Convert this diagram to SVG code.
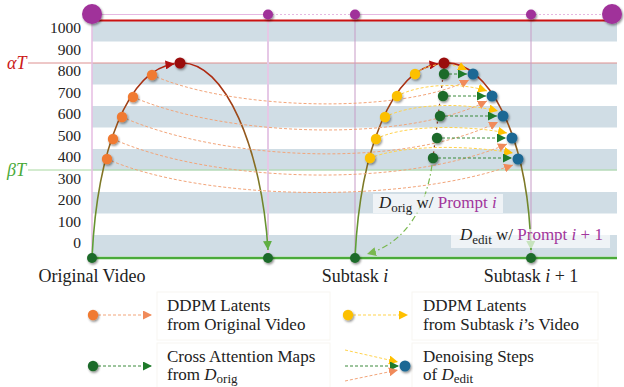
<svg xmlns="http://www.w3.org/2000/svg" width="624" height="387" viewBox="0 0 624 387">
<defs>
<style>
text{font-family:"Liberation Serif","Times New Roman",serif;fill:#222}
.ax{font-size:15.5px;text-anchor:end}
.lb{font-size:18px;text-anchor:middle}
.lg{font-size:17px}
.it{font-style:italic}
.pr{fill:#a2369c}
.stripe{fill:#d0dde5}
.od{stroke:#f2a57a;stroke-width:1;fill:none;stroke-dasharray:3 2}
.yd{stroke:#ffd34d;stroke-width:1;fill:none;stroke-dasharray:3 2}
.gd{stroke:#3a8a3a;stroke-width:1;fill:none;stroke-dasharray:3 2}
.arc{stroke:url(#arc);stroke-width:1.6;fill:none}
.dot{filter:url(#sh)}
.o{fill:#f07a30}
.y{fill:#fcc000}
.g{fill:#1e6b2a}
.b{fill:#1e6894}
.r{fill:#9a0a0a}
.p{fill:#a0309a}
.box{fill:#fff;fill-opacity:0.65}
.lgbox{fill:#fff;stroke:#f8f6f1;stroke-width:1}
</style>
<filter id="sh" x="-60%" y="-60%" width="220%" height="220%"><feDropShadow dx="1" dy="1.5" stdDeviation="1.2" flood-color="#000" flood-opacity="0.45"/></filter>
<linearGradient id="arc" gradientUnits="userSpaceOnUse" x1="0" y1="60" x2="0" y2="258"><stop offset="0" stop-color="#b3200f"/><stop offset="0.5" stop-color="#8a6a20"/><stop offset="1" stop-color="#56a83a"/></linearGradient>
<marker id="ao" markerUnits="userSpaceOnUse" markerWidth="10" markerHeight="9" refX="9" refY="4.5" orient="auto" viewBox="0 0 10 9"><path d="M0,0 L9,4.5 L0,9 z" fill="#f08a5a"/></marker>
<marker id="ay" markerUnits="userSpaceOnUse" markerWidth="10" markerHeight="9" refX="9" refY="4.5" orient="auto" viewBox="0 0 10 9"><path d="M0,0 L9,4.5 L0,9 z" fill="#ffc000"/></marker>
<marker id="ag" markerUnits="userSpaceOnUse" markerWidth="10" markerHeight="9" refX="9" refY="4.5" orient="auto" viewBox="0 0 10 9"><path d="M0,0 L9,4.5 L0,9 z" fill="#1e7a2a"/></marker>
<marker id="agl" markerUnits="userSpaceOnUse" markerWidth="10" markerHeight="9" refX="9" refY="4.5" orient="auto" viewBox="0 0 10 9"><path d="M0,0 L9,4.5 L0,9 z" fill="#5fae42"/></marker>
<marker id="ar" markerUnits="userSpaceOnUse" markerWidth="10" markerHeight="9" refX="9" refY="4.5" orient="auto" viewBox="0 0 10 9"><path d="M0,0 L9,4.5 L0,9 z" fill="#b01010"/></marker>
<marker id="agd" markerUnits="userSpaceOnUse" markerWidth="10" markerHeight="9" refX="9" refY="4.5" orient="auto" viewBox="0 0 10 9"><path d="M0,0 L9,4.5 L0,9 z" fill="#7ab850"/></marker>
</defs>

<g id="axes">
<rect class="stripe" x="92" y="20" width="525" height="21.5"/>
<rect class="stripe" x="92" y="63" width="525" height="21.5"/>
<rect class="stripe" x="92" y="106" width="525" height="21.5"/>
<rect class="stripe" x="92" y="149" width="525" height="21.5"/>
<rect class="stripe" x="92" y="192" width="525" height="21.5"/>
<rect class="stripe" x="92" y="235" width="525" height="21.5"/>
<line x1="28" y1="63" x2="617" y2="63" stroke="#dd9090" stroke-width="1"/>
<line x1="28" y1="170" x2="617" y2="170" stroke="#a8d8a0" stroke-width="1"/>
<line x1="92" y1="14" x2="92" y2="258" stroke="#e6bde2" stroke-width="1.5"/>
<line x1="268" y1="14" x2="268" y2="258" stroke="#e6c8e6" stroke-width="2"/>
<line x1="355" y1="14" x2="355" y2="258" stroke="#c79bc6" stroke-width="1"/>
<line x1="531" y1="14" x2="531" y2="258" stroke="#c79bc6" stroke-width="1"/>
<line x1="92" y1="14.5" x2="268" y2="14.5" stroke="#e6b8e2" stroke-width="1"/>
<line x1="268" y1="14.5" x2="355" y2="14.5" stroke="#e6b8e2" stroke-width="1" stroke-dasharray="2 2"/>
<line x1="355" y1="14.5" x2="531" y2="14.5" stroke="#e6b8e2" stroke-width="1"/>
<line x1="531" y1="14.5" x2="612" y2="14.5" stroke="#e6b8e2" stroke-width="1" stroke-dasharray="2 2"/>
<line x1="92" y1="20.5" x2="612" y2="20.5" stroke="#cc1111" stroke-width="2.2"/>
<line x1="92" y1="258" x2="617" y2="258" stroke="#4aaa3a" stroke-width="2.5"/>
<text class="ax" x="81" y="33">1000</text>
<text class="ax" x="81" y="54.5">900</text>
<text class="ax" x="81" y="76">800</text>
<text class="ax" x="81" y="97.5">700</text>
<text class="ax" x="81" y="119">600</text>
<text class="ax" x="81" y="140.5">500</text>
<text class="ax" x="81" y="162">400</text>
<text class="ax" x="81" y="183.5">300</text>
<text class="ax" x="81" y="205">200</text>
<text class="ax" x="81" y="226.5">100</text>
<text class="ax" x="81" y="248">0</text>
<text x="7" y="69" font-size="18" class="it" style="fill:#cc1a1a">αT</text>
<text x="7" y="176" font-size="18" class="it" style="fill:#4aaa3a">βT</text>
</g>

<g id="connectors">
<path class="arc" d="M92,258 C97,150 128,70 174.5,63.8" marker-end="url(#ar)"/>
<path class="arc" d="M180,63 C225,60 262,150 268,250" marker-end="url(#agl)"/>
<path class="arc" d="M355,258 C360,150 392,70 438.5,63.8" marker-end="url(#ar)"/>
<path class="arc" d="M444,63 C488,60 528,135 531,250" marker-end="url(#agl)"/>
<path d="M444,68 L433,158" stroke="#8a3b20" stroke-width="1.2" stroke-dasharray="2 4" fill="none"/>
<path d="M432,165 C425,215 400,245 367,254" stroke="#7ab850" stroke-width="1.2" stroke-dasharray="6 3 1.5 3" fill="none" marker-end="url(#agd)"/>
<path class="od" d="M152,75 C230,110 400,115 469,80" marker-end="url(#ao)"/>
<path class="od" d="M133,97 C220,135 400,145 487,101" marker-end="url(#ao)"/>
<path class="od" d="M122,117 C220,160 400,170 498,122" marker-end="url(#ao)"/>
<path class="od" d="M113,139 C210,182 400,190 507,144" marker-end="url(#ao)"/>
<path class="od" d="M107,159 C200,200 400,205 513,165" marker-end="url(#ao)"/>
<path class="yd" d="M415,74 C430,62 450,62 467,70" marker-end="url(#ay)"/>
<path class="yd" d="M397,96 C420,84 460,82 487,91" marker-end="url(#ay)"/>
<path class="yd" d="M385,117 C410,104 460,102 498,111" marker-end="url(#ay)"/>
<path class="yd" d="M376,139 C400,126 460,124 507,133" marker-end="url(#ay)"/>
<path class="yd" d="M370,158 C400,146 460,144 513,153" marker-end="url(#ay)"/>
<path class="gd" d="M444,74 L467,74" marker-end="url(#ag)"/>
<path class="gd" d="M443,96 L486,96" marker-end="url(#ag)"/>
<path class="gd" d="M440,116 L497,116" marker-end="url(#ag)"/>
<path class="gd" d="M437,138 L506,138" marker-end="url(#ag)"/>
<path class="gd" d="M433,158 L512,158" marker-end="url(#ag)"/>
</g>

<g id="top-markers">
<circle class="p dot" cx="92" cy="14" r="10"/>
<circle class="p dot" cx="612" cy="14" r="10"/>
<circle class="p dot" cx="268" cy="14.5" r="5"/>
<circle class="p dot" cx="355" cy="14.5" r="5"/>
<circle class="p dot" cx="531" cy="14.5" r="5"/>
</g>

<g id="original-video">
<circle class="g dot" cx="92" cy="258" r="5"/>
<circle class="o dot" cx="107" cy="159" r="5.2"/>
<circle class="o dot" cx="113" cy="139" r="5.2"/>
<circle class="o dot" cx="122" cy="117" r="5.2"/>
<circle class="o dot" cx="133" cy="97" r="5.2"/>
<circle class="o dot" cx="152" cy="75" r="5.2"/>
<circle class="r dot" cx="180" cy="63" r="5.5"/>
<circle class="g dot" cx="268" cy="258" r="5"/>
<text class="lb" x="92" y="282">Original Video</text>
</g>

<g id="subtask-i">
<circle class="g dot" cx="355" cy="258" r="5"/>
<circle class="y dot" cx="370" cy="158" r="5.2"/>
<circle class="y dot" cx="376" cy="139" r="5.2"/>
<circle class="y dot" cx="385" cy="117" r="5.2"/>
<circle class="y dot" cx="397" cy="96" r="5.2"/>
<circle class="y dot" cx="415" cy="74" r="5.2"/>
<circle class="r dot" cx="444" cy="63" r="5.5"/>
<circle class="g dot" cx="444" cy="74" r="5.2"/>
<circle class="g dot" cx="443" cy="96" r="5.2"/>
<circle class="g dot" cx="440" cy="116" r="5.2"/>
<circle class="g dot" cx="437" cy="138" r="5.2"/>
<circle class="g dot" cx="433" cy="158" r="5.2"/>
<text class="lb" x="355" y="282">Subtask <tspan class="it">i</tspan></text>
</g>

<g id="subtask-i1">
<circle class="b dot" cx="473" cy="74" r="5.5"/>
<circle class="b dot" cx="492" cy="96" r="5.5"/>
<circle class="b dot" cx="503" cy="116" r="5.5"/>
<circle class="b dot" cx="512" cy="138" r="5.5"/>
<circle class="b dot" cx="518" cy="159" r="5.5"/>
<circle class="g dot" cx="531" cy="258" r="5"/>
<text class="lb" x="531" y="282">Subtask <tspan class="it">i</tspan> + 1</text>
</g>

<g id="label-orig">
<rect class="box" x="373" y="194" width="130" height="19"/>
<text x="379" y="208" font-size="17"><tspan class="it">D</tspan><tspan font-size="13" dy="4">orig</tspan><tspan dy="-4"> w/ </tspan><tspan class="pr">Prompt </tspan><tspan class="pr it">i</tspan></text>
</g>
<g id="label-edit">
<rect class="box" x="451" y="229" width="159" height="19"/>
<text x="460" y="240" font-size="17"><tspan class="it">D</tspan><tspan font-size="13" dy="4">edit</tspan><tspan dy="-4"> w/ </tspan><tspan class="pr">Prompt </tspan><tspan class="pr it">i</tspan><tspan class="pr"> + 1</tspan></text>
</g>

<g id="legend">
<rect class="lgbox" x="157" y="292" width="173" height="48"/>
<rect class="lgbox" x="157" y="343" width="173" height="46"/>
<rect class="lgbox" x="412" y="292" width="186" height="48"/>
<rect class="lgbox" x="412" y="343" width="186" height="46"/>
<path class="od" d="M98,315 L152,315" marker-end="url(#ao)"/>
<circle class="o dot" cx="93" cy="315" r="5.2"/>
<text class="lg" x="167" y="311">DDPM Latents</text>
<text class="lg" x="167" y="330">from Original Video</text>
<path class="gd" d="M98,366 L152,366" marker-end="url(#ag)"/>
<circle class="g dot" cx="93" cy="366" r="5.2"/>
<text class="lg" x="167" y="362">Cross Attention Maps</text>
<text class="lg" x="167" y="380">from <tspan class="it">D</tspan><tspan font-size="13" dy="3">orig</tspan></text>
<path class="yd" d="M353,315 L408,315" marker-end="url(#ay)"/>
<circle class="y dot" cx="348" cy="315" r="5.2"/>
<text class="lg" x="423" y="311">DDPM Latents</text>
<text class="lg" x="423" y="330">from Subtask <tspan class="it">i</tspan>’s Video</text>
<path class="yd" d="M345,350 L398,362" marker-end="url(#ay)"/>
<path class="gd" d="M345,366 L399,366" marker-end="url(#ag)"/>
<path class="od" d="M345,381 L398,370" marker-end="url(#ao)"/>
<circle class="b dot" cx="405" cy="366" r="5.5"/>
<text class="lg" x="423" y="362">Denoising Steps</text>
<text class="lg" x="423" y="380">of <tspan class="it">D</tspan><tspan font-size="13" dy="3">edit</tspan></text>
</g>
</svg>
